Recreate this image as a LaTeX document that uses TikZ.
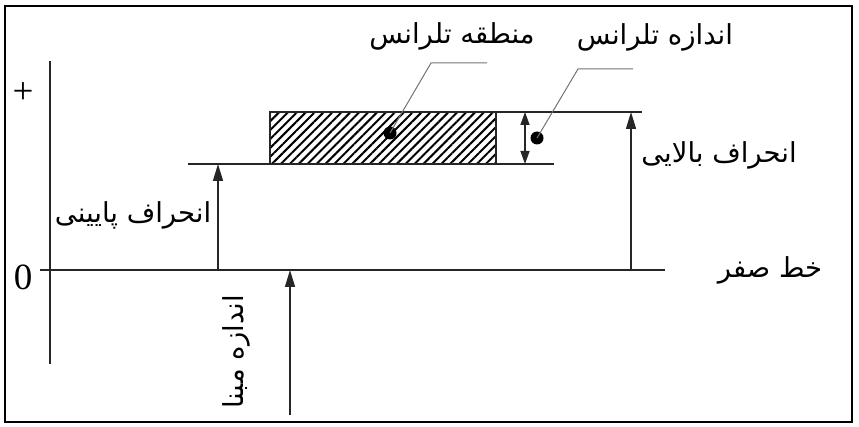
\documentclass[tikz,border=0pt]{standalone}
\usepackage{fontspec}
\setmainfont{Liberation Serif}
\newfontfamily\arabicfont[Script=Arabic]{DejaVu Sans}
\TeXXeTstate=1
\usetikzlibrary{arrows.meta,patterns.meta}
\tikzset{
  mainline/.style={line width=1.5pt, black!85},
  leader/.style={line width=1pt, black!55},
  uparrow/.style={mainline, -{Triangle[length=17pt,width=10pt]}},
  dimarrow/.style={mainline, {Triangle[length=13pt,width=9pt]}-{Triangle[length=13pt,width=9pt]}},
  lbl/.style={font=\arabicfont\fontsize{27.5}{30}\selectfont, inner sep=0pt},
  sign/.style={font=\fontsize{37}{37}\selectfont, inner sep=0pt},
  blob/.style={circle, fill=black, minimum size=13pt, inner sep=0pt}
}
\begin{document}
\begin{tikzpicture}[x=1pt,y=-1pt]
\useasboundingbox (0,0) rectangle (859,427);
\draw[line width=2.6pt] (5,6) rectangle (852,422);

% axis and reference lines
\coordinate (axT) at (50,61);
\coordinate (axB) at (50,364);
\draw[mainline] (axT) -- (axB);
\coordinate (z0) at (40,270);
\coordinate (z1) at (665,270);
\draw[mainline] (z0) -- (z1);
\coordinate (lo0) at (188,164);
\coordinate (lo1) at (554,164);
\draw[mainline] (lo0) -- (lo1);
\coordinate (up0) at (496,112);
\coordinate (up1) at (642,112);
\draw[mainline] (up0) -- (up1);

% tolerance zone
\draw[mainline, pattern={Lines[angle=45,distance=6.3pt,line width=2pt]}] (270,112) rectangle (496,164);

% arrows
\coordinate (ldA) at (218,270);
\coordinate (ldB) at (218,164);
\draw[uparrow] (ldA) -- (ldB);
\coordinate (udA) at (631,270);
\coordinate (udB) at (631,112);
\draw[uparrow] (udA) -- (udB);
\coordinate (tsA) at (525,112);
\coordinate (tsB) at (525,164);
\draw[dimarrow] (tsA) -- (tsB);
\coordinate (bsA) at (290,415);
\coordinate (bsB) at (290,270);
\draw[uparrow] (bsA) -- (bsB);

% leaders
\node[blob] (d1) at (390,133) {};
\coordinate (k1) at (431,63);
\coordinate (e1) at (487,63);
\draw[leader] (d1.center) -- (k1) -- (e1);
\node[blob] (d2) at (537,138) {};
\coordinate (k2) at (578,69);
\coordinate (e2) at (633,69);
\draw[leader] (d2.center) -- (k2) -- (e2);

% signs
\node[sign] (plus) at (23,93) {+};
\node[sign] (zero) at (23,277) {0};

% labels
\node[lbl] (zone) at (452,36) {\beginR منطقه تلرانس\endR};
\node[lbl] (tsize) at (655,37) {\beginR اندازه تلرانس\endR};
\node[lbl] (udev) at (719,155) {\beginR انحراف بالایی\endR};
\node[lbl] (ldev) at (133,215) {\beginR انحراف پایینی\endR};
\node[lbl] (zline) at (770,270) {\beginR خط صفر\endR};
\node[lbl, rotate=90] (bsize) at (236,352) {\beginR اندازه مبنا\endR};
\end{tikzpicture}
\end{document}
